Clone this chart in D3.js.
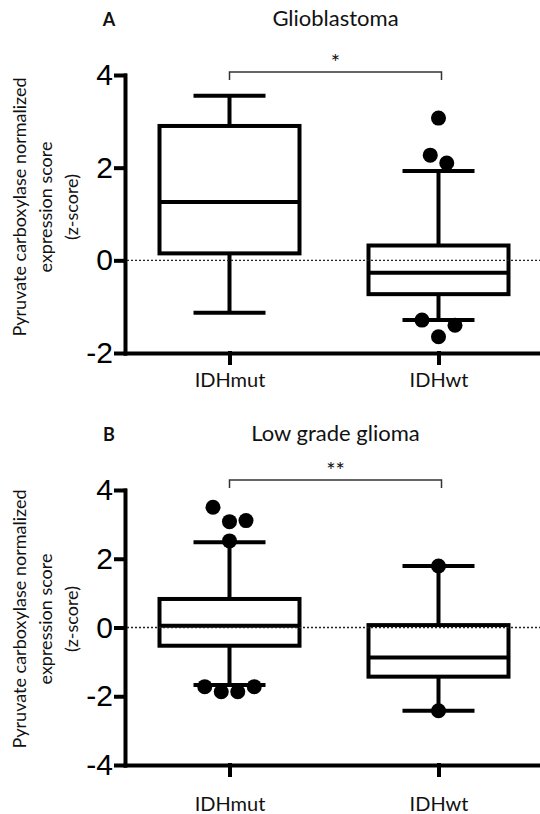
<!DOCTYPE html>
<html>
<head>
<meta charset="utf-8">
<script src="https://cdn.jsdelivr.net/npm/d3@7"></script>
<style>
  body { margin: 0; background: #fff; }
  svg { display: block; }
  text { font-family: Lato, 'Open Sans', sans-serif; fill: #111; }
  .y-axis .tick text { font-family: 'Liberation Sans', Arial, sans-serif; font-size: 30px; fill: #000; }
  .x-axis .tick text { font-size: 20px; }
</style>
</head>
<body>
<div class="chart-holder"></div>
<script>
let groups = ['IDHmut', 'IDHwt']

// each box: [lower whisker, q1, median, q3, upper whisker]
let gbmBoxes = [[-1.13, 0.15, 1.26, 2.90, 3.55], [-1.29, -0.73, -0.27, 0.32, 1.93]]
let gbmOutliers = [[], [3.07, 2.27, 2.10, -1.29, -1.65, -1.40]]
let gbmDomain = [-2, 4]
let gbmTicks = [-2, 0, 2, 4]

let lggBoxes = [[-1.67, -0.53, 0.05, 0.83, 2.48], [-2.42, -1.43, -0.87, 0.07, 1.79]]
let lggOutliers = [[3.50, 3.08, 3.11, 2.52, -1.72, -1.87, -1.87, -1.72], [1.79, -2.42]]
let lggDomain = [-4, 4]
let lggTicks = [-4, -2, 0, 2, 4]

let yLabel = ['Pyruvate carboxylase normalized', 'expression score', '(z-score)']

let width = 540, height = 814
let left = 125
let boxHalf = 70, capHalf = 36, r = 7.5

let svg = d3.select('.chart-holder')
    .append('svg')
        .attr('width', width)
        .attr('height', height)

// spread outliers that share a row, like prism does
function dodge(values, y) {
    let order = values.map((v, i) => i).sort((a, b) => y(values[a]) - y(values[b]))
    let rows = []
    order.forEach(i => {
        let row = rows[rows.length - 1]
        if (row && Math.abs(y(values[i]) - y(values[row[0]])) < r * 2.4) row.push(i)
        else rows.push([i])
    })
    let offsets = []
    rows.forEach(row => {
        row.sort((a, b) => a - b)
        row.forEach((i, k) => offsets[i] = (k - (row.length - 1) / 2) * r * 2.2)
    })
    return offsets
}

function drawPanel(p) {
    let g = svg.append('g')

    let x = d3.scalePoint().domain(groups).range([left, 543]).padding(0.5)
    let y = d3.scaleLinear().domain(p.domain).range([p.bottom, p.top])

    g.append('g').attr('class', 'y-axis')
        .attr('transform', 'translate(' + left + ',0)')
        .call(d3.axisLeft(y).tickValues(p.ticks).tickFormat(d => String(d)).tickSize(9).tickSizeOuter(0).tickPadding(3))
    g.append('g').attr('class', 'x-axis')
        .attr('transform', 'translate(0,' + p.bottom + ')')
        .call(d3.axisBottom(x).tickSize(10).tickSizeOuter(0).tickPadding(p.labelPad))
    g.selectAll('.domain, .tick line')
        .attr('stroke', '#000').attr('stroke-width', 4).attr('stroke-linecap', 'square')

    let boxes = g.append('g').selectAll('g')
        .data(p.boxes)
        .enter()
        .append('g')
            .attr('transform', (d, i) => 'translate(' + x(groups[i]) + ',0)')
            .attr('stroke', '#000').attr('stroke-width', 4).attr('fill', 'none')

    boxes.append('line').attr('y1', d => y(d[0])).attr('y2', d => y(d[1]))
    boxes.append('line').attr('y1', d => y(d[3])).attr('y2', d => y(d[4]))
    boxes.append('line').attr('x1', -capHalf).attr('x2', capHalf).attr('y1', d => y(d[0])).attr('y2', d => y(d[0]))
    boxes.append('line').attr('x1', -capHalf).attr('x2', capHalf).attr('y1', d => y(d[4])).attr('y2', d => y(d[4]))
    boxes.append('rect')
        .attr('x', -boxHalf).attr('width', boxHalf * 2)
        .attr('y', d => y(d[3])).attr('height', d => y(d[1]) - y(d[3]))
        .attr('fill', '#fff')
    boxes.append('line').attr('x1', -boxHalf).attr('x2', boxHalf).attr('y1', d => y(d[2])).attr('y2', d => y(d[2]))

    // dotted reference line at zero
    g.append('line')
        .attr('x1', left + 2).attr('x2', width)
        .attr('y1', y(0)).attr('y2', y(0))
        .attr('stroke', '#222').attr('stroke-width', 1.4).attr('stroke-dasharray', '2,2')

    p.outliers.forEach((vals, i) => {
        let dx = dodge(vals, y)
        g.append('g').selectAll('circle')
            .data(vals)
            .enter()
            .append('circle')
                .attr('cx', (d, k) => x(groups[i]) + dx[k])
                .attr('cy', d => y(d))
                .attr('r', r)
                .attr('fill', '#000')
    })

    // significance bracket
    let bx1 = x(groups[0]), bx2 = x(groups[1]) + 3
    g.append('path')
        .attr('d', 'M' + bx1 + ',' + (p.bracketY + 8) + 'V' + p.bracketY + 'H' + bx2 + 'V' + (p.bracketY + 8))
        .attr('fill', 'none').attr('stroke', '#333').attr('stroke-width', 1.5)
    g.append('text')
        .attr('x', (bx1 + bx2) / 2).attr('y', p.bracketY - 2)
        .attr('text-anchor', 'middle')
        .style('font-size', '22px')
        .text(p.stars)

    g.append('text')
        .attr('x', 109).attr('y', p.titleY)
        .attr('text-anchor', 'middle')
        .style('font-size', '18px').style('font-weight', 'bold')
        .text(p.letter)
    g.append('text')
        .attr('x', (bx1 + bx2) / 2).attr('y', p.titleY)
        .attr('text-anchor', 'middle')
        .style('font-size', '22px')
        .text(p.title)

    g.append('g')
        .attr('transform', 'translate(45,' + p.labelY + ') rotate(-90)')
        .selectAll('text')
        .data(yLabel)
        .enter()
        .append('text')
            .attr('y', (d, i) => (i - 1) * 26)
            .attr('dominant-baseline', 'central')
            .attr('text-anchor', 'middle')
            .style('font-size', '18px')
            .text(d => d)
}

drawPanel({
    boxes: gbmBoxes, outliers: gbmOutliers, domain: gbmDomain, ticks: gbmTicks,
    top: 75, bottom: 353, labelPad: 10, bracketY: 72, titleY: 25.5,
    letter: 'A', title: 'Glioblastoma', stars: '*', labelY: 207
})

drawPanel({
    boxes: lggBoxes, outliers: lggOutliers, domain: lggDomain, ticks: lggTicks,
    top: 490, bottom: 765, labelPad: 22, bracketY: 480, titleY: 441,
    letter: 'B', title: 'Low grade glioma', stars: '**', labelY: 619
})
</script>
</body>
</html>
